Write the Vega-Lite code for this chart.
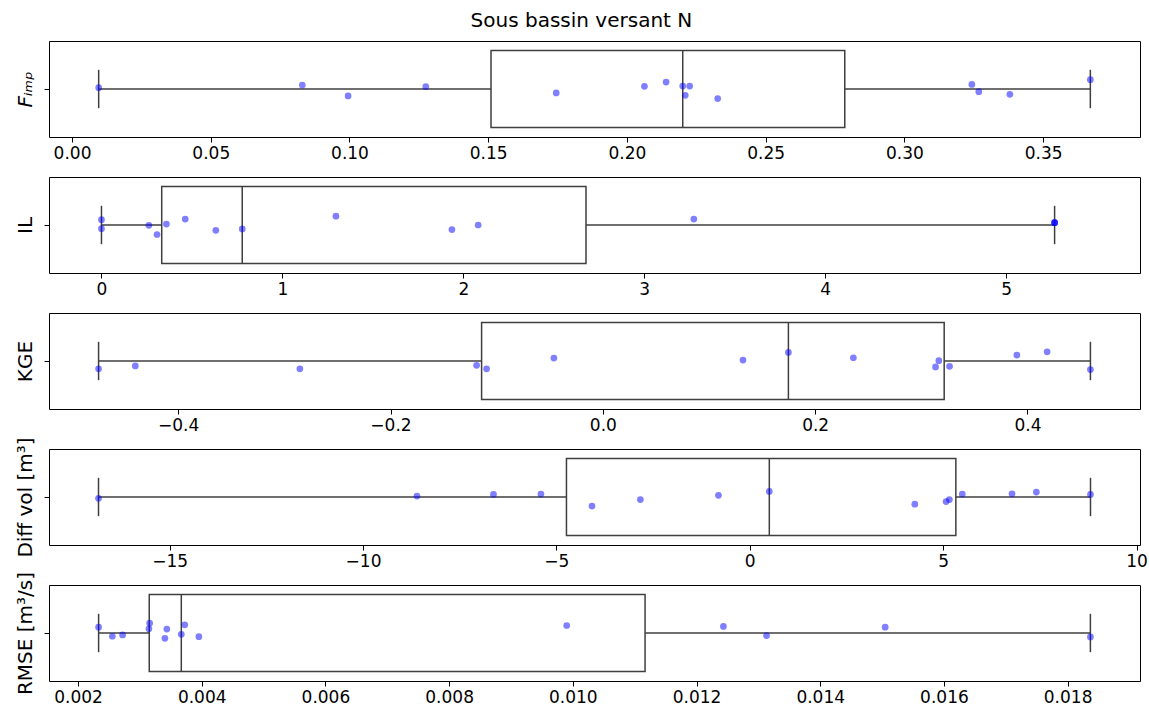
{
  "$schema": "https://vega.github.io/schema/vega-lite/v6.json",
  "background": "white",
  "padding": {"left": 15, "top": 10, "right": 4, "bottom": 2},
  "title": {"text": "Sous bassin versant N", "fontSize": 20, "font": "DejaVu Sans", "fontWeight": "normal", "color": "#000", "anchor": "middle", "offset": 10},
  "datasets": {
    "d": [
      {"m": "Fimp", "v": 0.0096, "j": 0.014}, {"m": "Fimp", "v": 0.083, "j": 0.041}, {"m": "Fimp", "v": 0.0995, "j": -0.072},
      {"m": "Fimp", "v": 0.1275, "j": 0.024}, {"m": "Fimp", "v": 0.1745, "j": -0.041}, {"m": "Fimp", "v": 0.2063, "j": 0.028},
      {"m": "Fimp", "v": 0.2141, "j": 0.072}, {"m": "Fimp", "v": 0.2201, "j": 0.031}, {"m": "Fimp", "v": 0.2226, "j": 0.031},
      {"m": "Fimp", "v": 0.221, "j": -0.066}, {"m": "Fimp", "v": 0.2327, "j": -0.1}, {"m": "Fimp", "v": 0.3243, "j": 0.048},
      {"m": "Fimp", "v": 0.3268, "j": -0.028}, {"m": "Fimp", "v": 0.338, "j": -0.055}, {"m": "Fimp", "v": 0.367, "j": 0.097},
      {"m": "IL", "v": 0, "j": 0.055}, {"m": "IL", "v": 0, "j": -0.038}, {"m": "IL", "v": 0.262, "j": -0.003},
      {"m": "IL", "v": 0.307, "j": -0.099}, {"m": "IL", "v": 0.359, "j": 0.01}, {"m": "IL", "v": 0.463, "j": 0.062},
      {"m": "IL", "v": 0.632, "j": -0.055}, {"m": "IL", "v": 0.778, "j": -0.041}, {"m": "IL", "v": 1.296, "j": 0.092},
      {"m": "IL", "v": 1.937, "j": -0.048}, {"m": "IL", "v": 2.082, "j": 0.0}, {"m": "IL", "v": 3.274, "j": 0.062},
      {"m": "IL", "v": 5.268, "j": 0.024}, {"m": "IL", "v": 5.268, "j": 0.024}, {"m": "IL", "v": 5.268, "j": 0.024},
      {"m": "KGE", "v": -0.475, "j": -0.082}, {"m": "KGE", "v": -0.4404, "j": -0.051}, {"m": "KGE", "v": -0.2854, "j": -0.082},
      {"m": "KGE", "v": -0.1189, "j": -0.045}, {"m": "KGE", "v": -0.1095, "j": -0.082}, {"m": "KGE", "v": -0.0461, "j": 0.031},
      {"m": "KGE", "v": 0.132, "j": 0.01}, {"m": "KGE", "v": 0.1748, "j": 0.089}, {"m": "KGE", "v": 0.236, "j": 0.034},
      {"m": "KGE", "v": 0.3134, "j": -0.062}, {"m": "KGE", "v": 0.3165, "j": 0.003}, {"m": "KGE", "v": 0.3266, "j": -0.055},
      {"m": "KGE", "v": 0.39, "j": 0.062}, {"m": "KGE", "v": 0.4185, "j": 0.096}, {"m": "KGE", "v": 0.4593, "j": -0.089},
      {"m": "Diff", "v": -16.84, "j": -0.014}, {"m": "Diff", "v": -8.605, "j": 0.01}, {"m": "Diff", "v": -6.627, "j": 0.027},
      {"m": "Diff", "v": -5.4, "j": 0.031}, {"m": "Diff", "v": -4.08, "j": -0.094}, {"m": "Diff", "v": -2.829, "j": -0.027},
      {"m": "Diff", "v": -0.81, "j": 0.017}, {"m": "Diff", "v": 0.505, "j": 0.058}, {"m": "Diff", "v": 4.267, "j": -0.075},
      {"m": "Diff", "v": 5.076, "j": -0.048}, {"m": "Diff", "v": 5.162, "j": -0.027}, {"m": "Diff", "v": 5.495, "j": 0.031},
      {"m": "Diff", "v": 6.781, "j": 0.034}, {"m": "Diff", "v": 7.41, "j": 0.051}, {"m": "Diff", "v": 8.81, "j": 0.027},
      {"m": "RMSE", "v": 0.002333, "j": 0.061}, {"m": "RMSE", "v": 0.002555, "j": -0.034}, {"m": "RMSE", "v": 0.002721, "j": -0.02},
      {"m": "RMSE", "v": 0.003146, "j": 0.044}, {"m": "RMSE", "v": 0.003158, "j": 0.102}, {"m": "RMSE", "v": 0.003405, "j": -0.055},
      {"m": "RMSE", "v": 0.003436, "j": 0.041}, {"m": "RMSE", "v": 0.00367, "j": -0.014}, {"m": "RMSE", "v": 0.003726, "j": 0.085},
      {"m": "RMSE", "v": 0.003954, "j": -0.038}, {"m": "RMSE", "v": 0.009901, "j": 0.078}, {"m": "RMSE", "v": 0.012435, "j": 0.068},
      {"m": "RMSE", "v": 0.013132, "j": -0.027}, {"m": "RMSE", "v": 0.01505, "j": 0.061}, {"m": "RMSE", "v": 0.018368, "j": -0.041}
    ]
  },
  "data": {"name": "d"},
  "spacing": 40,
  "bounds": "flush",
  "vconcat": [
    {
      "width": 1091, "height": 96,
      "transform": [{"filter": "datum.m === 'Fimp'"}],
      "layer": [
        {"mark": {"type": "rule", "color": "#3f3f3f", "strokeWidth": 1.5},
         "encoding": {"x": {"aggregate": "min", "field": "v", "type": "quantitative", "scale": {"domain": [-0.0083, 0.3849], "nice": false, "zero": false}, "title": null},
                      "x2": {"aggregate": "max", "field": "v"},
                      "y": {"datum": 0, "type": "quantitative", "scale": {"domain": [-0.5, 0.5], "nice": false, "zero": false}, "title": "Fᵢₘₚ", "axis": {"values": [0], "labels": false, "titleFontStyle": "italic"}}}},
        {"mark": {"type": "rect", "fill": "white", "stroke": "#3f3f3f", "strokeWidth": 1.5},
         "encoding": {"x": {"aggregate": "q1", "field": "v", "type": "quantitative", "scale": {"domain": [-0.0083, 0.3849], "nice": false, "zero": false}, "title": null},
                      "x2": {"aggregate": "q3", "field": "v"},
                      "y": {"datum": -0.4, "type": "quantitative", "scale": {"domain": [-0.5, 0.5], "nice": false, "zero": false}, "title": "Fᵢₘₚ", "axis": {"values": [0], "labels": false, "titleFontStyle": "italic"}},
                      "y2": {"datum": 0.4}}},
        {"mark": {"type": "rule", "color": "#3f3f3f", "strokeWidth": 1.5},
         "encoding": {"x": {"aggregate": "median", "field": "v", "type": "quantitative", "scale": {"domain": [-0.0083, 0.3849], "nice": false, "zero": false}, "title": null},
                      "y": {"datum": -0.4, "type": "quantitative", "scale": {"domain": [-0.5, 0.5], "nice": false, "zero": false}, "title": "Fᵢₘₚ", "axis": {"values": [0], "labels": false, "titleFontStyle": "italic"}},
                      "y2": {"datum": 0.4}}},
        {"mark": {"type": "rule", "color": "#3f3f3f", "strokeWidth": 1.5},
         "encoding": {"x": {"aggregate": "min", "field": "v", "type": "quantitative", "scale": {"domain": [-0.0083, 0.3849], "nice": false, "zero": false}, "title": null},
                      "y": {"datum": -0.2, "type": "quantitative", "scale": {"domain": [-0.5, 0.5], "nice": false, "zero": false}, "title": "Fᵢₘₚ", "axis": {"values": [0], "labels": false, "titleFontStyle": "italic"}},
                      "y2": {"datum": 0.2}}},
        {"mark": {"type": "rule", "color": "#3f3f3f", "strokeWidth": 1.5},
         "encoding": {"x": {"aggregate": "max", "field": "v", "type": "quantitative", "scale": {"domain": [-0.0083, 0.3849], "nice": false, "zero": false}, "title": null},
                      "y": {"datum": -0.2, "type": "quantitative", "scale": {"domain": [-0.5, 0.5], "nice": false, "zero": false}, "title": "Fᵢₘₚ", "axis": {"values": [0], "labels": false, "titleFontStyle": "italic"}},
                      "y2": {"datum": 0.2}}},
        {"mark": {"type": "circle", "size": 45, "color": "#0000ff", "opacity": 0.5},
         "encoding": {"x": {"field": "v", "type": "quantitative", "scale": {"domain": [-0.0083, 0.3849], "nice": false, "zero": false}, "title": null, "axis": {"values": [0, 0.05, 0.1, 0.15, 0.2, 0.25, 0.3, 0.35], "format": ".2f"}},
                      "y": {"field": "j", "type": "quantitative", "scale": {"domain": [-0.5, 0.5], "nice": false, "zero": false}, "title": "Fᵢₘₚ", "axis": {"values": [0], "labels": false, "titleFontStyle": "italic"}}}}
      ]
    },
    {
      "width": 1091, "height": 96,
      "transform": [{"filter": "datum.m === 'IL'"}],
      "layer": [
        {"mark": {"type": "rule", "color": "#3f3f3f", "strokeWidth": 1.5},
         "encoding": {"x": {"aggregate": "min", "field": "v", "type": "quantitative", "scale": {"domain": [-0.29, 5.74], "nice": false, "zero": false}, "title": null},
                      "x2": {"aggregate": "max", "field": "v"},
                      "y": {"datum": 0, "type": "quantitative", "scale": {"domain": [-0.5, 0.5], "nice": false, "zero": false}, "title": "IL", "axis": {"values": [0], "labels": false}}}},
        {"mark": {"type": "rect", "fill": "white", "stroke": "#3f3f3f", "strokeWidth": 1.5},
         "encoding": {"x": {"aggregate": "q1", "field": "v", "type": "quantitative", "scale": {"domain": [-0.29, 5.74], "nice": false, "zero": false}, "title": null},
                      "x2": {"aggregate": "q3", "field": "v"},
                      "y": {"datum": -0.4, "type": "quantitative", "scale": {"domain": [-0.5, 0.5], "nice": false, "zero": false}, "title": "IL", "axis": {"values": [0], "labels": false}},
                      "y2": {"datum": 0.4}}},
        {"mark": {"type": "rule", "color": "#3f3f3f", "strokeWidth": 1.5},
         "encoding": {"x": {"aggregate": "median", "field": "v", "type": "quantitative", "scale": {"domain": [-0.29, 5.74], "nice": false, "zero": false}, "title": null},
                      "y": {"datum": -0.4, "type": "quantitative", "scale": {"domain": [-0.5, 0.5], "nice": false, "zero": false}, "title": "IL", "axis": {"values": [0], "labels": false}},
                      "y2": {"datum": 0.4}}},
        {"mark": {"type": "rule", "color": "#3f3f3f", "strokeWidth": 1.5},
         "encoding": {"x": {"aggregate": "min", "field": "v", "type": "quantitative", "scale": {"domain": [-0.29, 5.74], "nice": false, "zero": false}, "title": null},
                      "y": {"datum": -0.2, "type": "quantitative", "scale": {"domain": [-0.5, 0.5], "nice": false, "zero": false}, "title": "IL", "axis": {"values": [0], "labels": false}},
                      "y2": {"datum": 0.2}}},
        {"mark": {"type": "rule", "color": "#3f3f3f", "strokeWidth": 1.5},
         "encoding": {"x": {"aggregate": "max", "field": "v", "type": "quantitative", "scale": {"domain": [-0.29, 5.74], "nice": false, "zero": false}, "title": null},
                      "y": {"datum": -0.2, "type": "quantitative", "scale": {"domain": [-0.5, 0.5], "nice": false, "zero": false}, "title": "IL", "axis": {"values": [0], "labels": false}},
                      "y2": {"datum": 0.2}}},
        {"mark": {"type": "circle", "size": 45, "color": "#0000ff", "opacity": 0.5},
         "encoding": {"x": {"field": "v", "type": "quantitative", "scale": {"domain": [-0.29, 5.74], "nice": false, "zero": false}, "title": null, "axis": {"values": [0, 1, 2, 3, 4, 5], "format": "d"}},
                      "y": {"field": "j", "type": "quantitative", "scale": {"domain": [-0.5, 0.5], "nice": false, "zero": false}, "title": "IL", "axis": {"values": [0], "labels": false}}}}
      ]
    },
    {
      "width": 1091, "height": 96,
      "transform": [{"filter": "datum.m === 'KGE'"}],
      "layer": [
        {"mark": {"type": "rule", "color": "#3f3f3f", "strokeWidth": 1.5},
         "encoding": {"x": {"aggregate": "min", "field": "v", "type": "quantitative", "scale": {"domain": [-0.5217, 0.506], "nice": false, "zero": false}, "title": null},
                      "x2": {"aggregate": "max", "field": "v"},
                      "y": {"datum": 0, "type": "quantitative", "scale": {"domain": [-0.5, 0.5], "nice": false, "zero": false}, "title": "KGE", "axis": {"values": [0], "labels": false}}}},
        {"mark": {"type": "rect", "fill": "white", "stroke": "#3f3f3f", "strokeWidth": 1.5},
         "encoding": {"x": {"aggregate": "q1", "field": "v", "type": "quantitative", "scale": {"domain": [-0.5217, 0.506], "nice": false, "zero": false}, "title": null},
                      "x2": {"aggregate": "q3", "field": "v"},
                      "y": {"datum": -0.4, "type": "quantitative", "scale": {"domain": [-0.5, 0.5], "nice": false, "zero": false}, "title": "KGE", "axis": {"values": [0], "labels": false}},
                      "y2": {"datum": 0.4}}},
        {"mark": {"type": "rule", "color": "#3f3f3f", "strokeWidth": 1.5},
         "encoding": {"x": {"aggregate": "median", "field": "v", "type": "quantitative", "scale": {"domain": [-0.5217, 0.506], "nice": false, "zero": false}, "title": null},
                      "y": {"datum": -0.4, "type": "quantitative", "scale": {"domain": [-0.5, 0.5], "nice": false, "zero": false}, "title": "KGE", "axis": {"values": [0], "labels": false}},
                      "y2": {"datum": 0.4}}},
        {"mark": {"type": "rule", "color": "#3f3f3f", "strokeWidth": 1.5},
         "encoding": {"x": {"aggregate": "min", "field": "v", "type": "quantitative", "scale": {"domain": [-0.5217, 0.506], "nice": false, "zero": false}, "title": null},
                      "y": {"datum": -0.2, "type": "quantitative", "scale": {"domain": [-0.5, 0.5], "nice": false, "zero": false}, "title": "KGE", "axis": {"values": [0], "labels": false}},
                      "y2": {"datum": 0.2}}},
        {"mark": {"type": "rule", "color": "#3f3f3f", "strokeWidth": 1.5},
         "encoding": {"x": {"aggregate": "max", "field": "v", "type": "quantitative", "scale": {"domain": [-0.5217, 0.506], "nice": false, "zero": false}, "title": null},
                      "y": {"datum": -0.2, "type": "quantitative", "scale": {"domain": [-0.5, 0.5], "nice": false, "zero": false}, "title": "KGE", "axis": {"values": [0], "labels": false}},
                      "y2": {"datum": 0.2}}},
        {"mark": {"type": "circle", "size": 45, "color": "#0000ff", "opacity": 0.5},
         "encoding": {"x": {"field": "v", "type": "quantitative", "scale": {"domain": [-0.5217, 0.506], "nice": false, "zero": false}, "title": null, "axis": {"values": [-0.4, -0.2, 0, 0.2, 0.4], "format": ".1f"}},
                      "y": {"field": "j", "type": "quantitative", "scale": {"domain": [-0.5, 0.5], "nice": false, "zero": false}, "title": "KGE", "axis": {"values": [0], "labels": false}}}}
      ]
    },
    {
      "width": 1091, "height": 96,
      "transform": [{"filter": "datum.m === 'Diff'"}],
      "layer": [
        {"mark": {"type": "rule", "color": "#3f3f3f", "strokeWidth": 1.5},
         "encoding": {"x": {"aggregate": "min", "field": "v", "type": "quantitative", "scale": {"domain": [-18.12, 10.09], "nice": false, "zero": false}, "title": null},
                      "x2": {"aggregate": "max", "field": "v"},
                      "y": {"datum": 0, "type": "quantitative", "scale": {"domain": [-0.5, 0.5], "nice": false, "zero": false}, "title": "Diff vol [m³]", "axis": {"values": [0], "labels": false}}}},
        {"mark": {"type": "rect", "fill": "white", "stroke": "#3f3f3f", "strokeWidth": 1.5},
         "encoding": {"x": {"aggregate": "q1", "field": "v", "type": "quantitative", "scale": {"domain": [-18.12, 10.09], "nice": false, "zero": false}, "title": null},
                      "x2": {"aggregate": "q3", "field": "v"},
                      "y": {"datum": -0.4, "type": "quantitative", "scale": {"domain": [-0.5, 0.5], "nice": false, "zero": false}, "title": "Diff vol [m³]", "axis": {"values": [0], "labels": false}},
                      "y2": {"datum": 0.4}}},
        {"mark": {"type": "rule", "color": "#3f3f3f", "strokeWidth": 1.5},
         "encoding": {"x": {"aggregate": "median", "field": "v", "type": "quantitative", "scale": {"domain": [-18.12, 10.09], "nice": false, "zero": false}, "title": null},
                      "y": {"datum": -0.4, "type": "quantitative", "scale": {"domain": [-0.5, 0.5], "nice": false, "zero": false}, "title": "Diff vol [m³]", "axis": {"values": [0], "labels": false}},
                      "y2": {"datum": 0.4}}},
        {"mark": {"type": "rule", "color": "#3f3f3f", "strokeWidth": 1.5},
         "encoding": {"x": {"aggregate": "min", "field": "v", "type": "quantitative", "scale": {"domain": [-18.12, 10.09], "nice": false, "zero": false}, "title": null},
                      "y": {"datum": -0.2, "type": "quantitative", "scale": {"domain": [-0.5, 0.5], "nice": false, "zero": false}, "title": "Diff vol [m³]", "axis": {"values": [0], "labels": false}},
                      "y2": {"datum": 0.2}}},
        {"mark": {"type": "rule", "color": "#3f3f3f", "strokeWidth": 1.5},
         "encoding": {"x": {"aggregate": "max", "field": "v", "type": "quantitative", "scale": {"domain": [-18.12, 10.09], "nice": false, "zero": false}, "title": null},
                      "y": {"datum": -0.2, "type": "quantitative", "scale": {"domain": [-0.5, 0.5], "nice": false, "zero": false}, "title": "Diff vol [m³]", "axis": {"values": [0], "labels": false}},
                      "y2": {"datum": 0.2}}},
        {"mark": {"type": "circle", "size": 45, "color": "#0000ff", "opacity": 0.5},
         "encoding": {"x": {"field": "v", "type": "quantitative", "scale": {"domain": [-18.12, 10.09], "nice": false, "zero": false}, "title": null, "axis": {"values": [-15, -10, -5, 0, 5, 10], "format": "d"}},
                      "y": {"field": "j", "type": "quantitative", "scale": {"domain": [-0.5, 0.5], "nice": false, "zero": false}, "title": "Diff vol [m³]", "axis": {"values": [0], "labels": false}}}}
      ]
    },
    {
      "width": 1091, "height": 96,
      "transform": [{"filter": "datum.m === 'RMSE'"}],
      "layer": [
        {"mark": {"type": "rule", "color": "#3f3f3f", "strokeWidth": 1.5},
         "encoding": {"x": {"aggregate": "min", "field": "v", "type": "quantitative", "scale": {"domain": [0.001531, 0.01917], "nice": false, "zero": false}, "title": null},
                      "x2": {"aggregate": "max", "field": "v"},
                      "y": {"datum": 0, "type": "quantitative", "scale": {"domain": [-0.5, 0.5], "nice": false, "zero": false}, "title": "RMSE [m³/s]", "axis": {"values": [0], "labels": false}}}},
        {"mark": {"type": "rect", "fill": "white", "stroke": "#3f3f3f", "strokeWidth": 1.5},
         "encoding": {"x": {"aggregate": "q1", "field": "v", "type": "quantitative", "scale": {"domain": [0.001531, 0.01917], "nice": false, "zero": false}, "title": null},
                      "x2": {"aggregate": "q3", "field": "v"},
                      "y": {"datum": -0.4, "type": "quantitative", "scale": {"domain": [-0.5, 0.5], "nice": false, "zero": false}, "title": "RMSE [m³/s]", "axis": {"values": [0], "labels": false}},
                      "y2": {"datum": 0.4}}},
        {"mark": {"type": "rule", "color": "#3f3f3f", "strokeWidth": 1.5},
         "encoding": {"x": {"aggregate": "median", "field": "v", "type": "quantitative", "scale": {"domain": [0.001531, 0.01917], "nice": false, "zero": false}, "title": null},
                      "y": {"datum": -0.4, "type": "quantitative", "scale": {"domain": [-0.5, 0.5], "nice": false, "zero": false}, "title": "RMSE [m³/s]", "axis": {"values": [0], "labels": false}},
                      "y2": {"datum": 0.4}}},
        {"mark": {"type": "rule", "color": "#3f3f3f", "strokeWidth": 1.5},
         "encoding": {"x": {"aggregate": "min", "field": "v", "type": "quantitative", "scale": {"domain": [0.001531, 0.01917], "nice": false, "zero": false}, "title": null},
                      "y": {"datum": -0.2, "type": "quantitative", "scale": {"domain": [-0.5, 0.5], "nice": false, "zero": false}, "title": "RMSE [m³/s]", "axis": {"values": [0], "labels": false}},
                      "y2": {"datum": 0.2}}},
        {"mark": {"type": "rule", "color": "#3f3f3f", "strokeWidth": 1.5},
         "encoding": {"x": {"aggregate": "max", "field": "v", "type": "quantitative", "scale": {"domain": [0.001531, 0.01917], "nice": false, "zero": false}, "title": null},
                      "y": {"datum": -0.2, "type": "quantitative", "scale": {"domain": [-0.5, 0.5], "nice": false, "zero": false}, "title": "RMSE [m³/s]", "axis": {"values": [0], "labels": false}},
                      "y2": {"datum": 0.2}}},
        {"mark": {"type": "circle", "size": 45, "color": "#0000ff", "opacity": 0.5},
         "encoding": {"x": {"field": "v", "type": "quantitative", "scale": {"domain": [0.001531, 0.01917], "nice": false, "zero": false}, "title": null, "axis": {"values": [0.002, 0.004, 0.006, 0.008, 0.01, 0.012, 0.014, 0.016, 0.018], "format": ".3f"}},
                      "y": {"field": "j", "type": "quantitative", "scale": {"domain": [-0.5, 0.5], "nice": false, "zero": false}, "title": "RMSE [m³/s]", "axis": {"values": [0], "labels": false}}}}
      ]
    }
  ],
  "config": {
    "font": "DejaVu Sans",
    "view": {"stroke": "#000000", "strokeWidth": 1},
    "axis": {"domain": false, "grid": false, "labelFont": "DejaVu Sans", "labelFontSize": 17, "labelColor": "#000", "tickColor": "#000", "tickSize": 5, "tickWidth": 1, "labelPadding": 3, "titleFont": "DejaVu Sans", "titleFontSize": 20, "titleFontWeight": "normal", "titleColor": "#000"},
    "axisX": {"labelFlush": false, "labelOverlap": false},
    "axisY": {"titlePadding": 8}
  }
}
